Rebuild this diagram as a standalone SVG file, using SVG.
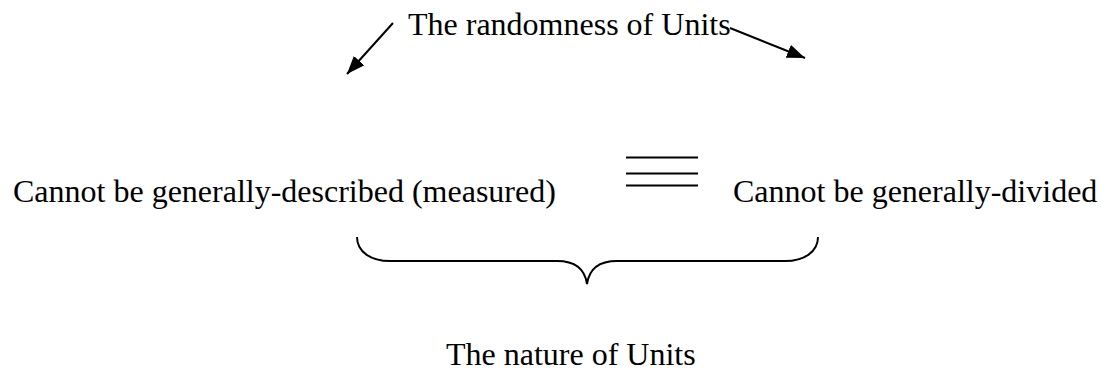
<svg xmlns="http://www.w3.org/2000/svg" width="1101" height="372" viewBox="0 0 1101 372">
<style>
.t{font-family:"Liberation Serif","Times New Roman",serif;font-size:32px;fill:#000}
.l{stroke:#000;stroke-width:2;fill:none}
</style>
<defs>
<marker id="ah2" viewBox="0 0 18 14" refX="18" refY="7" markerWidth="18" markerHeight="14" orient="auto" markerUnits="userSpaceOnUse">
<path d="M0,0 L18,7 L0,14 Z" fill="#000"/>
</marker>
</defs>
<rect width="1101" height="372" fill="#fff"/>
<g id="top"><text class="t" x="408" y="35">The randomness of Units</text></g>
<g id="left"><text class="t" x="13" y="202">Cannot be generally-described (measured)</text></g>
<g id="right"><text class="t" x="733" y="202">Cannot be generally-divided</text></g>
<g id="bottom"><text class="t" x="446" y="365">The nature of Units</text></g>
<g id="equiv">
<line class="l" x1="626" y1="157.5" x2="698" y2="157.5"/>
<line class="l" x1="626" y1="173.5" x2="698" y2="173.5"/>
<line class="l" x1="626" y1="185.5" x2="698" y2="185.5"/>
</g>
<g id="connectors">
<line class="l" x1="393" y1="23" x2="347" y2="74" marker-end="url(#ah2)"/>
<line class="l" x1="730" y1="28" x2="805" y2="58" marker-end="url(#ah2)"/>
<path class="l" d="M357,237 C357,252 371,261 390,261 L557,261 C576,261 585,270 587,284 C589,270 598,261 617,261 L785,261 C804,261 818,252 818,237"/>
</g>
</svg>
